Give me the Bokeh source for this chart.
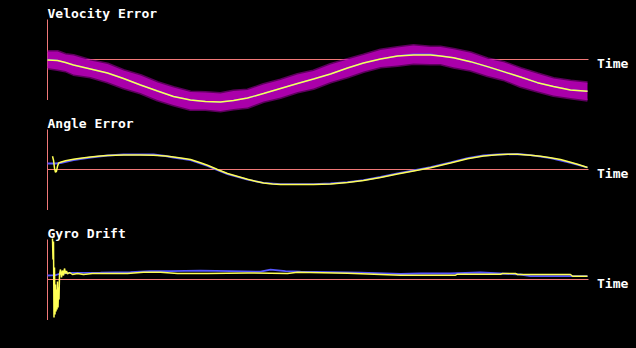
from bokeh.plotting import figure
from bokeh.models import Range1d
from bokeh.core.properties import value
from bokeh.embed import file_html
from bokeh.resources import INLINE

FONT = "DejaVu Sans Mono"
AXIS = "#f07878"
PURPLE = "#aa00aa"
YELLOW = "#ffff55"
BLUE = "#5555ff"

# ---------------- data (time in samples, values in display units) ----------------
vel_t = [0, 10, 18, 26, 43, 60, 76, 93, 110, 126, 143, 158, 173, 186, 200, 216, 233, 250,
         266, 283, 300, 316, 333, 350, 366, 383, 393, 406, 423, 440, 456, 473, 490, 506, 523, 540]
vel_est = [-0.5, -1.0, -3.0, -5.5, -9.5, -13.5, -19.0, -25.5, -31.5, -37.0, -40.5, -42.0,
           -42.5, -41.0, -38.5, -34.0, -29.0, -24.0, -19.5, -14.5, -8.5, -3.5, 0.5, 3.5,
           4.5, 4.5, 3.5, 1.8, -2.2, -7.2, -12.2, -17.5, -23.2, -27.0, -30.5, -31.8]
vel_true = [0.0, -1.0, -3.0, -5.5, -9.5, -13.5, -19.0, -25.5, -31.5, -37.0, -40.5, -42.0,
            -42.5, -41.0, -38.5, -34.0, -29.0, -24.0, -19.5, -14.5, -8.5, -3.5, 0.5, 3.5,
            5.2, 5.2, 3.5, 1.8, -2.2, -7.2, -12.2, -17.5, -23.2, -27.0, -30.5, -31.8]
vel_meas_hi = [8.0, 8.0, 5.0, 4.0, -1.0, -4.5, -11.0, -16.0, -23.0, -28.0, -32.5, -33.0,
               -34.0, -31.5, -30.5, -25.0, -20.5, -15.0, -11.5, -5.0, 0.0, 4.5, 9.5, 12.0,
               14.0, 12.5, 12.5, 10.3, 6.8, 0.8, -2.7, -9.0, -14.2, -19.0, -21.5, -23.3]
vel_meas_lo = [-8.5, -10.0, -11.5, -15.0, -17.5, -22.5, -28.5, -33.5, -40.5, -45.5, -50.0,
               -50.0, -51.5, -49.5, -48.0, -42.0, -38.0, -32.5, -29.0, -22.5, -17.5, -12.0,
               -7.5, -6.0, -4.0, -4.5, -4.5, -7.7, -10.7, -16.2, -20.2, -27.0, -31.7, -36.0,
               -38.5, -40.8]

ang_est_t = [5, 6, 7, 8, 9, 10, 11, 13, 18, 26, 33, 43, 53, 60, 76, 93, 106, 118, 126, 135,
             143, 153, 160, 170, 180, 193, 200, 208, 216, 225, 233, 250, 266, 283, 300, 316,
             333, 350, 366, 383, 403, 420, 436, 450, 460, 470, 483, 493, 503, 513, 523, 530, 540]
ang_est = [13.3, 9.3, 1.3, -2.7, -1.7, 3.3, 6.3, 7.3, 8.8, 10.3, 11.3, 12.6, 13.6, 14.0,
           14.6, 14.6, 14.3, 13.5, 12.6, 11.3, 10.0, 6.8, 4.3, 0.0, -4.0, -7.7, -9.7, -11.7,
           -13.4, -14.4, -15.0, -15.0, -14.9, -14.4, -13.0, -11.0, -8.0, -4.4, -1.4, 1.8,
           6.6, 10.8, 13.6, 14.8, 15.3, 15.3, 14.3, 13.3, 11.8, 10.0, 7.3, 5.3, 2.0]
ang_true_t = [0, 8, 13, 26, 43, 60, 76, 93, 106, 118, 126, 143, 160, 170, 180, 200, 216, 233,
              250, 266, 283, 300, 316, 333, 350, 366, 383, 403, 420, 436, 450, 470, 483, 503,
              523, 540]
ang_true = [6.0, 6.0, 6.5, 9.5, 12.0, 14.0, 15.0, 15.2, 15.0, 13.5, 12.0, 9.3, 3.5, -0.7,
            -4.7, -10.2, -13.4, -14.6, -14.6, -14.6, -14.0, -12.7, -10.7, -7.5, -3.8, -1.0,
            2.4, 7.2, 11.4, 14.0, 15.0, 15.5, 14.3, 11.3, 6.7, 2.0]

gyro_est_t = [5.0, 5.5, 6.0, 6.5, 7.0, 7.5, 8.0, 8.5, 9.0, 9.5, 10.0, 10.5, 11.0, 11.5, 12.0,
              13, 14, 15, 16, 17, 18, 19, 20, 22, 25, 30, 36, 45, 60, 80, 96, 113, 130, 160,
              200, 240, 250, 300, 353, 408, 410, 453, 455, 468, 470, 523, 525, 540]
gyro_est = [41.0, 20.0, 38.0, -38.0, 12.0, -35.0, -5.0, -32.0, -10.0, -30.0, -2.0, -28.0,
            -8.0, -20.0, 5.0, 10.0, 2.0, 9.0, 4.0, 11.0, 6.0, 8.5, 5.5, 7.0, 5.0, 6.0, 5.0,
            6.0, 6.0, 6.0, 7.3, 7.3, 6.0, 6.0, 6.5, 6.0, 7.3, 6.3, 4.3, 4.3, 5.3, 5.3, 6.0,
            6.0, 5.0, 5.0, 3.3, 3.3]
gyro_true_t = [0, 8, 13, 23, 53, 83, 103, 123, 153, 183, 213, 223, 238, 253, 283, 313, 353,
               373, 403, 433, 453, 473, 483, 503, 523, 540]
gyro_true = [4.0, 4.3, 6.0, 6.6, 6.8, 7.3, 8.3, 8.3, 8.8, 8.3, 7.8, 9.8, 8.3, 7.8, 7.3, 6.8,
             5.5, 6.0, 6.0, 7.0, 6.0, 5.0, 3.3, 3.3, 3.3, 3.3]

titles = ["Velocity Error", "Angle Error", "Gyro Drift"]
axis_label = "Time"
T_END = 541

H = 348
zero_px = [59, 169, 279]   # pixel row of each panel's zero line
range_names = ["default", "p2", "p3"]

p = figure(width=636, height=H, x_range=Range1d(-47, 589),
           y_range=Range1d(zero_px[0] - H, zero_px[0]), output_backend="svg",
           toolbar_location=None, min_border=0, x_axis_location=None,
           y_axis_location=None, background_fill_color="black",
           border_fill_color="black", outline_line_color=None)
p.title.visible = False
p.xgrid.visible = False
p.ygrid.visible = False
p.extra_y_ranges = {"p2": Range1d(zero_px[1] - H, zero_px[1]),
                    "p3": Range1d(zero_px[2] - H, zero_px[2])}

for title, rn in zip(titles, range_names):
    p.segment(x0=[0, 0], y0=[40, 0], x1=[0, T_END], y1=[-40.5, 0],
              line_color=AXIS, line_width=1, y_range_name=rn)
    p.text(x=[0], y=[45.8], text=[title], text_font=value(FONT),
           text_font_size="13px", text_font_style="bold", text_color="white",
           text_baseline="alphabetic", text_align="left", y_range_name=rn)
    p.text(x=[549.5], y=[-3.7], text=[axis_label], text_font=value(FONT),
           text_font_size="13px", text_font_style="bold", text_color="white",
           text_baseline="alphabetic", text_align="left", y_range_name=rn)

# Velocity error panel
p.varea(x=vel_t, y1=vel_meas_lo, y2=vel_meas_hi, fill_color=PURPLE)
p.line(vel_t, vel_meas_hi, line_color=PURPLE, line_width=3, line_alpha=0.55)
p.line(vel_t, vel_meas_lo, line_color=PURPLE, line_width=3, line_alpha=0.55)
p.line(vel_t, vel_true, line_color=BLUE, line_width=1.5)
p.line(vel_t, vel_est, line_color=YELLOW, line_width=1.4)

# Angle error panel
p.line(ang_true_t, ang_true, line_color=BLUE, line_width=1.8, y_range_name="p2")
p.line(ang_est_t, ang_est, line_color=YELLOW, line_width=1.5, y_range_name="p2")

# Gyro drift panel
p.line(gyro_true_t, gyro_true, line_color=BLUE, line_width=1.8, y_range_name="p3")
p.line(gyro_est_t, gyro_est, line_color=YELLOW, line_width=1.5, y_range_name="p3")

html = file_html(p, INLINE)
html = html.replace(
    "<body>",
    '<body style="margin:0;padding:0;background:#000000;overflow:hidden">', 1)
html = html.replace(
    "</head>",
    "<style>html,body{margin:0;padding:0;background:#000;border:0;outline:0}</style></head>", 1)
open("out.html", "w").write(html)
